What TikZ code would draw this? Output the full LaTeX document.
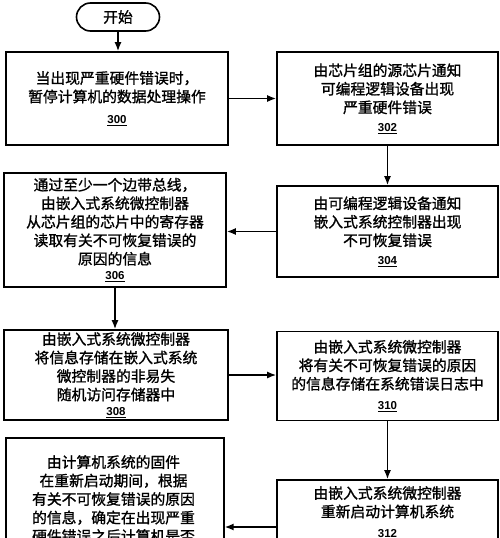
\documentclass[tikz,border=0pt]{standalone}
\usepackage{fontspec}
\newfontfamily\cjk{Noto Sans CJK SC}[FakeBold=1.2]
\newfontfamily\numfont{Liberation Sans}
\usetikzlibrary{arrows.meta}
\tikzset{
  box/.style={draw=black, line width=1.6pt, fill=white, align=center,
    font=\cjk\fontsize{14.8}{18.5}\selectfont, inner sep=2pt},
  startbox/.style={box, rounded corners=14pt, minimum width=83pt, minimum height=28pt},
  txt/.style={align=center, font=\cjk\fontsize{14.8}{18.5}\selectfont, inner sep=0pt},
  arr/.style={line width=1.6pt, -{Latex[length=9pt,width=7pt]}},
}
\newcommand{\refnum}[1]{{\numfont\bfseries\fontsize{11.5}{14}\selectfont\underline{#1}}}
\begin{document}
\begin{tikzpicture}[x=1pt,y=-1pt]
\useasboundingbox (0,0) rectangle (500,538);
\clip (0,0) rectangle (500,538);
\node[startbox] (start) at (118,17) {开始};
\node[box, minimum width=222pt, minimum height=93pt] (b300) at (117,98.5)
  {当出现严重硬件错误时，\\暂停计算机的数据处理操作\\[3pt]\refnum{300}};
\node[box, minimum width=221pt, minimum height=93pt] (b302) at (387.5,98.5)
  {由芯片组的源芯片通知\\可编程逻辑设备出现\\严重硬件错误\\\refnum{302}};
\node[box, minimum width=221pt, minimum height=91pt] (b304) at (387.5,231.5)
  {由可编程逻辑设备通知\\嵌入式系统控制器出现\\不可恢复错误\\\refnum{304}};
\node[box, minimum width=222pt, minimum height=114pt] (b306) at (115,230)
  {通过至少一个边带总线，\\由嵌入式系统微控制器\\从芯片组的芯片中的寄存器\\读取有关不可恢复错误的\\原因的信息\\[-3pt]\refnum{306}};
\node[box, minimum width=224pt, minimum height=90pt] (b308) at (116,375)
  {由嵌入式系统微控制器\\将信息存储在嵌入式系统\\微控制器的非易失\\随机访问存储器中\\[-3pt]\refnum{308}};
\node[box, minimum width=221pt, minimum height=89pt] (b310) at (387.5,376)
  {由嵌入式系统微控制器\\将有关不可恢复错误的原因\\的信息存储在系统错误日志中\\[2pt]\refnum{310}};
\node[box, minimum width=221pt, minimum height=66pt] (b312) at (387.5,513)
  {由嵌入式系统微控制器\\重新启动计算机系统\\[2pt]\refnum{312}};
\node[box, anchor=north west, minimum width=218pt, minimum height=160pt] (b314) at (5,437) {};
\node[txt, anchor=north] (t314) at (113.5,455)
  {由计算机系统的固件\\在重新启动期间，根据\\有关不可恢复错误的原因\\的信息，确定在出现严重\\硬件错误之后计算机是否};
\coordinate (y527) at (0,527);
\draw[arr] (start.south) -- (start.south |- b300.north);
\draw[arr] (b300.east) -- (b302.west);
\draw[arr] (b302.south) -- (b304.north);
\draw[arr] (b304.west) -- (b304.west -| b306.east);
\draw[arr] (b306.south) -- (b306.south |- b308.north);
\draw[arr] (b308.east) -- (b308.east -| b310.west);
\draw[arr] (b310.south) -- (b312.north);
\draw[arr] (b312.west |- y527) -- (b314.east |- y527);
\end{tikzpicture}
\end{document}
